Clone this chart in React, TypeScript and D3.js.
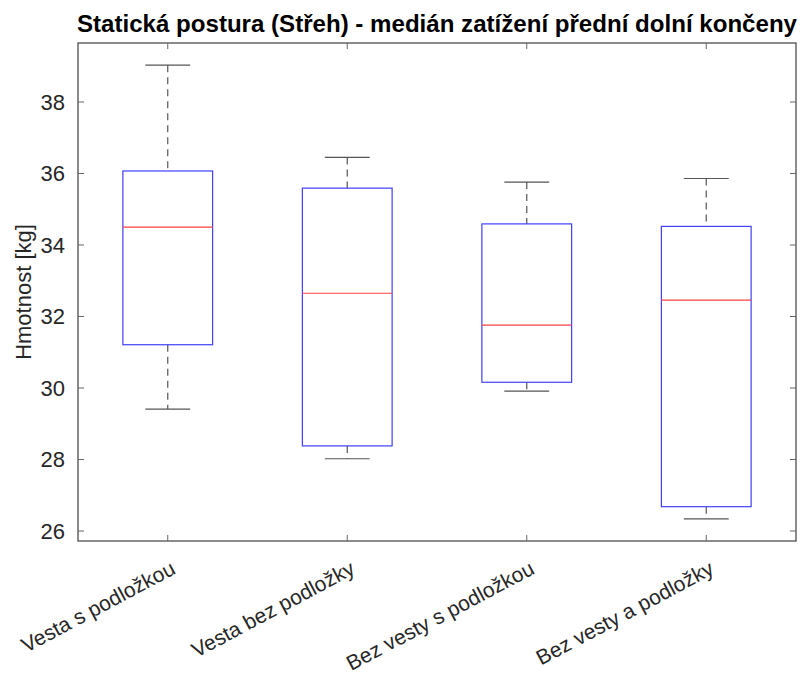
import React from "react";
import * as d3 from "d3";

const categories = ["Vesta s podložkou", "Vesta bez podložky", "Bez vesty s podložkou", "Bez vesty a podložky"];
const upperWhisker = [39.03, 36.45, 35.76, 35.86];
const q3 = [36.07, 35.59, 34.59, 34.52];
const median = [34.5, 32.65, 31.76, 32.46];
const q1 = [31.21, 28.38, 30.16, 26.68];
const lowerWhisker = [29.41, 28.02, 29.91, 26.34];
const yTicks = [26, 28, 30, 32, 34, 36, 38];
const title = "Statická postura (Střeh) - medián zatížení přední dolní končeny";
const yLabel = "Hmotnost [kg]";

const W = 802, H = 681;
const left = 78, right = 796, top = 43, bottom = 541;

export default function App() {
  const x = d3.scaleLinear().domain([0.5, 4.5]).range([left, right]);
  const y = d3.scaleLinear().domain([25.72, 39.65]).range([bottom, top]);
  const boxW = x(1.25) - x(1);
  const capW = x(1.125) - x(1);
  const axisColor = "#666";
  const font = "Liberation Sans, Arial, sans-serif";
  return (
    <svg width={W} height={H} style={{ position: "absolute", left: 0, top: 0, background: "#fff" }}>
      <rect x={0} y={0} width={W} height={H} fill="#fff" />
      <text x={(left + right) / 2} y={32} textAnchor="middle" fontFamily={font} fontWeight="bold" fontSize={23} fill="#000" textLength={720} lengthAdjust="spacingAndGlyphs">{title}</text>
      {categories.map((c, i) => {
        const cx = x(i + 1);
        return (
          <g key={c}>
            <line x1={cx} x2={cx} y1={y(upperWhisker[i])} y2={y(q3[i])} stroke="#555" strokeWidth={1.2} strokeDasharray="7,5" />
            <line x1={cx} x2={cx} y1={y(q1[i])} y2={y(lowerWhisker[i])} stroke="#555" strokeWidth={1.2} strokeDasharray="7,5" />
            <line x1={cx - capW} x2={cx + capW} y1={y(upperWhisker[i])} y2={y(upperWhisker[i])} stroke="#555" strokeWidth={1.2} />
            <line x1={cx - capW} x2={cx + capW} y1={y(lowerWhisker[i])} y2={y(lowerWhisker[i])} stroke="#555" strokeWidth={1.2} />
            <rect x={cx - boxW} y={y(q3[i])} width={boxW * 2} height={y(q1[i]) - y(q3[i])} fill="none" stroke="#4040ff" strokeWidth={1.2} />
            <line x1={cx - boxW} x2={cx + boxW} y1={y(median[i])} y2={y(median[i])} stroke="#ff4040" strokeWidth={1.2} />
          </g>
        );
      })}
      <rect x={left} y={top} width={right - left} height={bottom - top} fill="none" stroke={axisColor} strokeWidth={1.5} />
      {yTicks.map((t) => (
        <g key={t}>
          <line x1={left} x2={left + 6} y1={y(t)} y2={y(t)} stroke={axisColor} strokeWidth={1} />
          <line x1={right} x2={right - 6} y1={y(t)} y2={y(t)} stroke={axisColor} strokeWidth={1} />
          <text x={left - 13} y={y(t)} dy="0.36em" textAnchor="end" fontFamily={font} fontSize={22} fill="#262626">{t}</text>
        </g>
      ))}
      {categories.map((c, i) => {
        const cx = x(i + 1);
        return (
          <g key={"t" + c}>
            <line x1={cx} x2={cx} y1={bottom} y2={bottom - 6} stroke={axisColor} strokeWidth={1} />
            <line x1={cx} x2={cx} y1={top} y2={top + 6} stroke={axisColor} strokeWidth={1} />
            <text transform={`translate(${cx + 9},${bottom + 32}) rotate(-28)`} textAnchor="end" fontFamily={font} fontSize={21} fill="#262626">{c}</text>
          </g>
        );
      })}
      <text transform={`translate(31,${(top + bottom) / 2}) rotate(-90)`} textAnchor="middle" fontFamily={font} fontSize={22} fill="#262626">{yLabel}</text>
    </svg>
  );
}
